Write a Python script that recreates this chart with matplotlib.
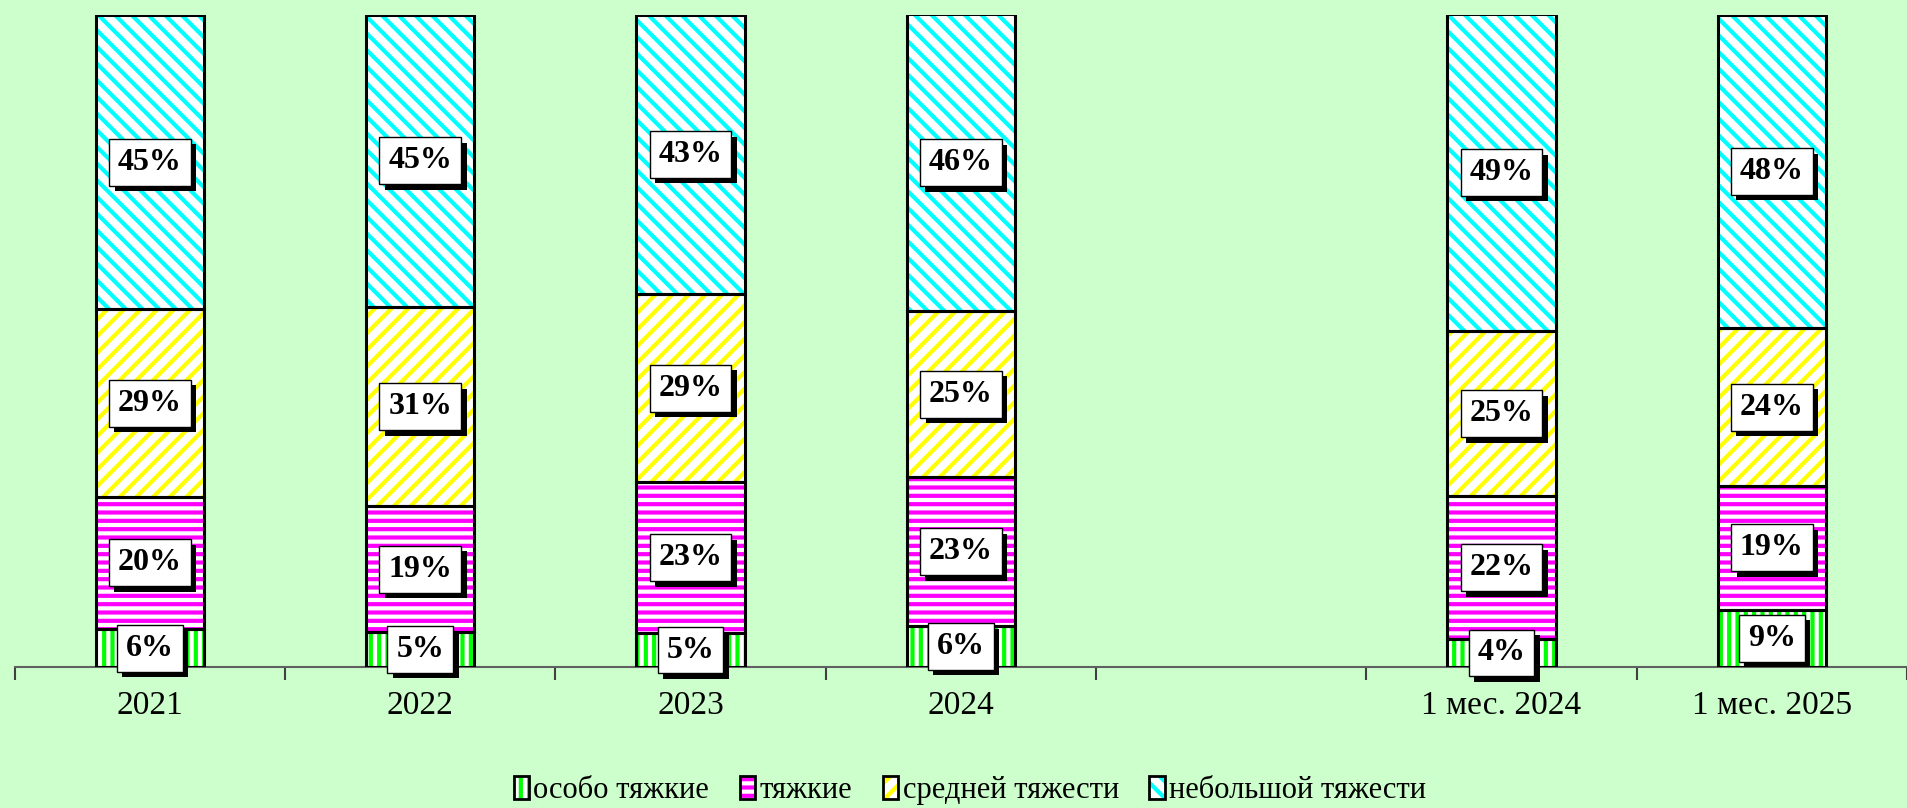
import numpy as np
import matplotlib
matplotlib.use("Agg")
import matplotlib.pyplot as plt
import matplotlib.patheffects as pe
from matplotlib.patches import Patch
from matplotlib.legend_handler import HandlerTuple
from matplotlib.ticker import FixedLocator

# данные (доли, %), пустая позиция между 2024 и 1 мес. 2024
categories = ['2021', '2022', '2023', '2024', '', '1 мес. 2024', '1 мес. 2025']
osobo = [5.8, 5.4, 5.2, 6.3, np.nan, 4.3, 8.8]
tyazh = [20.3, 19.2, 23.1, 22.8, np.nan, 21.9, 18.9]
sred = [28.7, 30.6, 28.9, 25.4, np.nan, 25.3, 24.2]
nebol = [45.1, 44.8, 42.7, 45.6, np.nan, 48.6, 48.1]

series = [
    ('особо тяжкие', osobo, '#00FF00', '||'),
    ('тяжкие', tyazh, '#FF00FF', '--'),
    ('средней тяжести', sred, '#FFFF00', '//'),
    ('небольшой тяжести', nebol, '#00FFFF', '\\\\'),
]

plt.rcParams['font.family'] = ['Liberation Serif', 'DejaVu Serif']
plt.rcParams['hatch.linewidth'] = 3.0

bg = '#CCFFCC'
fig = plt.figure(figsize=(19.07, 8.08), dpi=100, facecolor=bg)
ax = fig.add_axes([0.0077, 0.1745, 0.9923, 0.8075])
ax.set_facecolor(bg)

x = np.arange(len(categories))
width = 0.4
bottom = np.zeros(len(categories))

for name, vals, color, hatch in series:
    v = np.array(vals, dtype=float)
    mask = ~np.isnan(v)
    # штриховка
    ax.bar(x[mask], v[mask], width, bottom=bottom[mask], color='white',
           edgecolor=color, hatch=hatch, linewidth=0, zorder=2)
    # контур
    ax.bar(x[mask], v[mask], width, bottom=bottom[mask], color='none',
           edgecolor='black', linewidth=2.2, zorder=3)
    for xi, b, val in zip(x[mask], bottom[mask], v[mask]):
        t = ax.text(xi, b + val / 2, f'{val:.0f}%', ha='center', va='center',
                    fontsize=23, fontweight='bold', zorder=5,
                    bbox=dict(boxstyle='square,pad=0.28', fc='white', ec='black', lw=1))
        t.get_bbox_patch().set_path_effects([
            pe.SimplePatchShadow(offset=(4, -4), shadow_rgbFace='black', alpha=1.0),
            pe.Normal()])
    bottom[mask] += v[mask]

ax.set_xlim(-0.5, len(categories) - 0.5)
ax.set_ylim(0, 100)
for s in ['top', 'right', 'left']:
    ax.spines[s].set_visible(False)
ax.spines['bottom'].set_color('#606060')
ax.spines['bottom'].set_linewidth(1.5)
ax.set_yticks([])
ax.set_xticks(x)
ax.set_xticklabels(categories, fontsize=24)
ax.tick_params(axis='x', which='major', length=0, pad=17)
ax.xaxis.set_minor_locator(FixedLocator(np.arange(-0.5, len(categories), 1.0)))
ax.tick_params(axis='x', which='minor', length=9, width=1.5, color='#404040')

# легенда: штриховка + чёрная рамка
handles = []
for _, _, c, h in series:
    fill = Patch(facecolor='white', edgecolor=c, hatch=h, linewidth=0)
    frame = Patch(facecolor='none', edgecolor='black', linewidth=2)
    handles.append((fill, frame))
labels = [n for n, _, _, _ in series]
fig.legend(handles, labels, loc='center', bbox_to_anchor=(0.5086, 0.022), ncol=4,
           frameon=False, fontsize=22, handlelength=0.5, handleheight=0.8,
           handletextpad=0.15, columnspacing=1.0,
           handler_map={tuple: HandlerTuple(ndivide=1, pad=0)})

fig.savefig('out.png', dpi=100, facecolor=bg)
